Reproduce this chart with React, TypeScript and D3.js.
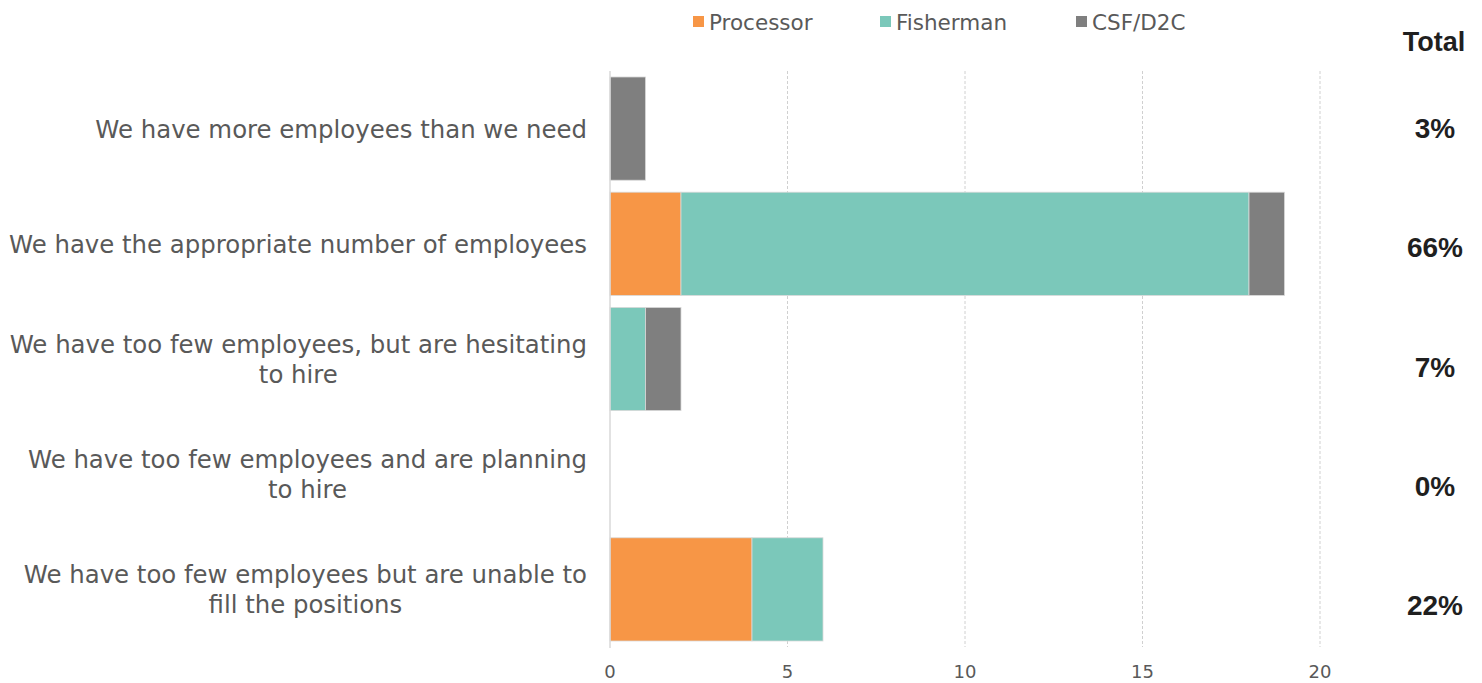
import React from "react";
import * as d3 from "d3";

const categories: string[][] = [
  ["We have more employees than we need"],
  ["We have the appropriate number of employees"],
  ["We have too few employees, but are hesitating", "to hire"],
  ["We have too few employees and are planning", "to hire"],
  ["We have too few employees but are unable to", "fill the positions"],
];
const seriesNames = ["Processor", "Fisherman", "CSF/D2C"];
const processor = [0, 2, 0, 0, 4];
const fisherman = [0, 16, 1, 0, 2];
const csf = [1, 1, 1, 0, 0];
const totals = ["3%", "66%", "7%", "0%", "22%"];
const xTicks = [0, 5, 10, 15, 20];
const colors = ["#F79646", "#7BC8BA", "#7F7F7F"];

const W = 1482;
const H = 683;
const regular = "'DejaVu Sans', sans-serif";
const bold = "'Liberation Sans', Arial, sans-serif";
const LABEL_SIZE = 24.4;

function measure(text: string, size: number, family: string): number {
  const c = document.createElement("canvas");
  const ctx = c.getContext("2d");
  if (!ctx) return text.length * size * 0.55;
  ctx.font = `${size}px ${family}`;
  return ctx.measureText(text).width;
}

export default function App() {
  const x = d3.scaleLinear().domain([0, 20]).range([610, 1320]);
  const y = d3
    .scaleBand<number>()
    .domain(d3.range(categories.length))
    .range([71, 647])
    .paddingInner(0.104)
    .paddingOuter(0.052);
  const yTot = d3
    .scalePoint<number>()
    .domain(d3.range(categories.length))
    .range([128, 605]);

  const rows = categories.map((_, i) => ({
    i,
    Processor: processor[i],
    Fisherman: fisherman[i],
    "CSF/D2C": csf[i],
  }));
  const stacked = d3.stack<any>().keys(seriesNames)(rows);

  const legendX = [693, 880, 1076];
  const labelRight = 587;

  return (
    <svg
      width={W}
      height={H}
      style={{ position: "absolute", left: 0, top: 0, background: "#fff" }}
    >
      {/* gridlines */}
      {xTicks.slice(1).map((t) => (
        <line
          key={t}
          x1={x(t)}
          x2={x(t)}
          y1={71}
          y2={647}
          stroke="#d0d0d0"
          strokeWidth={1}
          strokeDasharray="3,2"
        />
      ))}
      {/* bars */}
      {stacked.map((s, si) => (
        <g key={s.key} fill={colors[si]}>
          {s.map((d, i) =>
            d[1] - d[0] > 0 ? (
              <rect
                key={i}
                x={x(d[0])}
                y={y(i)!}
                width={x(d[1]) - x(d[0])}
                height={y.bandwidth()}
                stroke="#d9d9d9"
                strokeWidth={0.8}
              />
            ) : null
          )}
        </g>
      ))}
      {/* axis line */}
      <line x1={x(0)} x2={x(0)} y1={71} y2={648} stroke="#d9d9d9" strokeWidth={1.5} />
      {/* tick labels */}
      {xTicks.map((t) => (
        <text
          key={t}
          x={x(t)}
          y={678}
          textAnchor="middle"
          fontFamily={regular}
          fontSize={18}
          fill="#595959"
        >
          {t}
        </text>
      ))}
      {/* category labels */}
      {categories.map((lines, i) => {
        const c = y(i)! + y.bandwidth() / 2;
        const lh = 30;
        const start = c - ((lines.length - 1) * lh) / 2 + 9;
        const maxW = Math.max(...lines.map((l) => measure(l, LABEL_SIZE, regular)));
        const cx = labelRight - maxW / 2;
        return (
          <text
            key={i}
            textAnchor="middle"
            fontFamily={regular}
            fontSize={LABEL_SIZE}
            fill="#595959"
          >
            {lines.map((l, li) => (
              <tspan key={li} x={cx} y={start + li * lh}>
                {l}
              </tspan>
            ))}
          </text>
        );
      })}
      {/* legend */}
      {seriesNames.map((n, i) => (
        <g key={n}>
          <rect x={legendX[i]} y={16} width={11} height={11} fill={colors[i]} />
          <text
            x={legendX[i] + 16}
            y={30}
            fontFamily={regular}
            fontSize={21.5}
            fill="#595959"
          >
            {n}
          </text>
        </g>
      ))}
      {/* totals */}
      <text
        x={1434}
        y={51}
        textAnchor="middle"
        fontFamily={bold}
        fontWeight="bold"
        fontSize={27}
        fill="#1f1f1f"
      >
        Total
      </text>
      {totals.map((t, i) => (
        <text
          key={i}
          x={1435}
          y={yTot(i)! + 10}
          textAnchor="middle"
          fontFamily={bold}
          fontWeight="bold"
          fontSize={28}
          fill="#1f1f1f"
        >
          {t}
        </text>
      ))}
    </svg>
  );
}
